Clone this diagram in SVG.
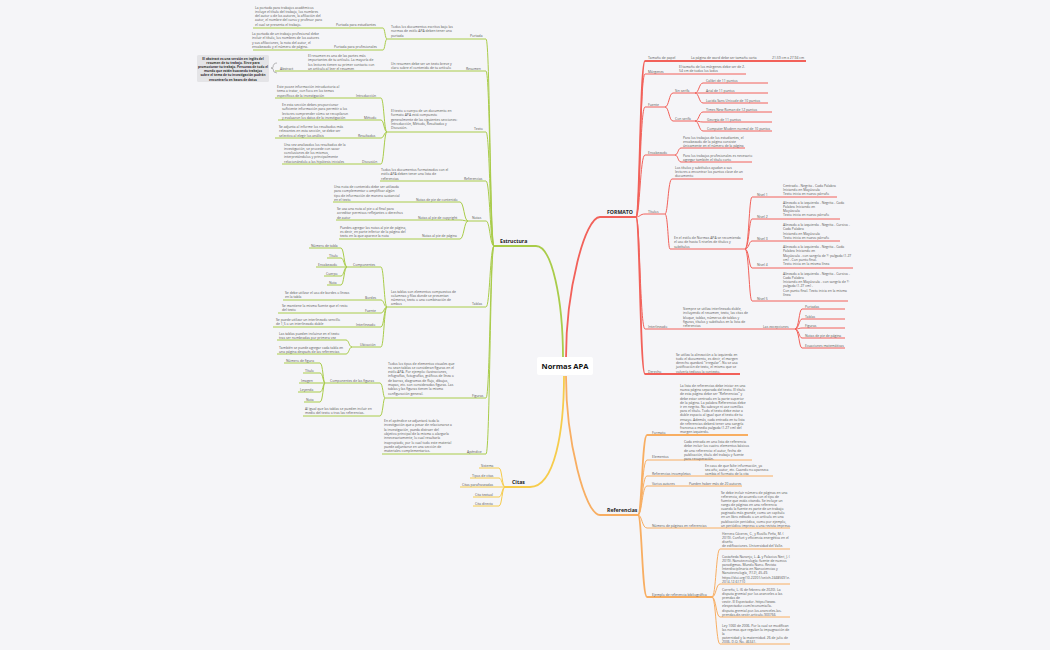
<svg xmlns="http://www.w3.org/2000/svg" width="1050" height="650" viewBox="0 0 1050 650">
<style>
text{font-family:"Open Sans","Liberation Sans",sans-serif;font-size:3.4px;fill:#555}
.h{font-size:5.2px;font-weight:bold;fill:#222}
.b{font-weight:bold;fill:#333;font-size:3.2px}
.g{stroke:#a9cc4a;fill:none;stroke-width:1}
.r{stroke:#f2615a;fill:none;stroke-width:1}
.o{stroke:#f8ae62;fill:none;stroke-width:1}
.y{stroke:#f6cc4c;fill:none;stroke-width:1}
.t{stroke-width:1.8}
</style>
<rect width="1050" height="650" fill="#f5f5f8"/>
<g id="connectors">
<path class="g t" d="M563 358 C563 300 552 246 536 246 H494"/>
<path class="r t" d="M566 358 C566 290 585 217 600 217 H636"/>
<path class="o t" d="M566 376 C566 440 585 515 600 515 H638"/>
<path class="y t" d="M564 376 C564 430 555 487 530 487 H505"/>
<g class="g">
<path d="M387 39 H486 C490 39 490 246 494 246"/>
<path d="M275 71 H486 C490 71 490 246 494 246"/>
<path d="M387 132 H486 C490 132 490 246 494 246"/>
<path d="M380 181 H486 C490 181 490 246 494 246"/>
<path d="M468 221 H486 C490 221 490 246 494 246"/>
<path d="M387 307 H486 C490 307 490 246 494 246"/>
<path d="M385 398 H486 C490 398 490 246 494 246"/>
<path d="M382 454 H486 C490 454 490 246 494 246"/>
<path d="M253 28 H383 C385 28 385 39 387 39"/>
<path d="M253 50 H383 C385 50 385 39 387 39"/>
<path d="M275 98 H381 C384 98 384 132 387 132"/>
<path d="M278 120 H381 C384 120 384 132 387 132"/>
<path d="M275 138 H381 C384 138 384 132 387 132"/>
<path d="M282 164 H381 C384 164 384 132 387 132"/>
<path d="M333 202 H460 C464 202 464 221 468 221"/>
<path d="M336 220 H460 C464 220 464 221 468 221"/>
<path d="M339 239 H460 C464 239 464 221 468 221"/>
<path d="M347 267 H381 C384 267 384 307 387 307"/>
<path d="M283 300 H381 C384 300 384 307 387 307"/>
<path d="M278 313 H381 C384 313 384 307 387 307"/>
<path d="M273 327 H381 C384 327 384 307 387 307"/>
<path d="M352 347 H381 C384 347 384 307 387 307"/>
<path d="M309 248 H341 C344 248 344 267 347 267"/>
<path d="M327 258 H341 C344 258 344 267 347 267"/>
<path d="M316 267 H347"/>
<path d="M324 276 H341 C344 276 344 267 347 267"/>
<path d="M327 285 H341 C344 285 344 267 347 267"/>
<path d="M277 340 H346 C349 340 349 347 352 347"/>
<path d="M277 354 H346 C349 354 349 347 352 347"/>
<path d="M325 383 H380 C383 383 383 398 385 398"/>
<path d="M303 416 H380 C383 416 383 398 385 398"/>
<path d="M284 363 H320 C323 363 323 383 325 383"/>
<path d="M303 373 H320 C323 373 323 383 325 383"/>
<path d="M299 383 H325"/>
<path d="M298 392 H320 C323 392 323 383 325 383"/>
<path d="M304 402 H320 C323 402 323 383 325 383"/>
</g>
<g class="y">
<path d="M479 468 H499 C502 468 502 487 505 487"/>
<path d="M470 478 H499 C502 478 502 487 505 487"/>
<path d="M460 487 H505"/>
<path d="M473 497 H499 C502 497 502 487 505 487"/>
<path d="M473 506 H499 C502 506 502 487 505 487"/>
</g>
<g class="r">
<path class="t" d="M636 217 C640 217 640 61 645 61 H806"/>
<path d="M636 217 C640 217 640 74 645 74 H746"/>
<path d="M636 217 C640 217 640 107 645 107 H665"/>
<path d="M636 217 C640 217 640 155 645 155 H675"/>
<path d="M636 217 C640 217 640 214 645 214 H665"/>
<path d="M636 217 C640 217 640 329 645 329 H795"/>
<path class="t" d="M636 217 C640 217 640 374 645 374 H740"/>
<path d="M665 107 C669 107 669 93 673 93 H695"/>
<path d="M665 107 C669 107 669 121 673 121 H695"/>
<path d="M695 93 C699 93 699 83 703 83 H768"/>
<path d="M695 93 H768"/>
<path d="M695 93 C699 93 699 103 703 103 H768"/>
<path d="M695 121 C699 121 699 112 703 112 H772"/>
<path d="M695 121 C699 121 699 122 703 122 H772"/>
<path d="M695 121 C699 121 699 131 703 131 H772"/>
<path d="M675 155 C678 155 678 148 681 148 H745"/>
<path d="M675 155 C678 155 678 162 681 162 H752"/>
<path d="M665 214 C668 214 668 179 672 179 H743"/>
<path d="M665 214 C668 214 668 249 670 249 H745"/>
<path d="M745 249 C749 249 749 197 752 197 H837"/>
<path d="M745 249 C749 249 749 219 752 219 H840"/>
<path d="M745 249 C749 249 749 241 752 241 H840"/>
<path d="M745 249 C749 249 749 268 752 268 H853"/>
<path d="M745 249 C749 249 749 301 752 301 H848"/>
<path d="M795 329 C799 329 799 309 802 309 H845"/>
<path d="M795 329 C799 329 799 319 802 319 H845"/>
<path d="M795 329 C799 329 799 328 802 328 H845"/>
<path d="M795 329 C799 329 799 338 802 338 H845"/>
<path d="M795 329 C799 329 799 348 802 348 H845"/>
</g>
<g class="o">
<path class="t" d="M638 515 C642 515 642 435 647 435 H748"/>
<path d="M638 515 C642 515 642 460 647 460 H752"/>
<path d="M638 515 C642 515 642 476 647 476 H773"/>
<path d="M638 515 C642 515 642 486 647 486 H742"/>
<path d="M638 515 C642 515 642 528 647 528 H790"/>
<path class="t" d="M638 515 C642 515 642 597 647 597 H712"/>
<path d="M712 597 C716 597 716 549 720 549 H790"/>
<path d="M712 597 C716 597 716 584 720 584 H790"/>
<path d="M712 597 C716 597 716 617 720 617 H790"/>
<path d="M712 597 C716 597 716 644 720 644 H790"/>
</g>
</g>
<g id="center"><rect x="537" y="357" width="56" height="18" rx="2" fill="#fff"/><text x="565" y="369" text-anchor="middle" style="font-size:7.5px;font-weight:bold;fill:#111">Normas APA</text></g>
<g id="estructura"><text class="h" x="500" y="243">Estructura</text></g>
<g id="formato"><text class="h" x="607" y="214">FORMATO</text></g>
<g id="referencias"><text class="h" x="607" y="512">Referencias</text></g>
<g id="citas"><text class="h" x="512" y="484">Citas</text></g>
<g id="portada">
<text x="470" y="37">Portada</text>
<text x="391" y="28"><tspan x="391">Todos los documentos escritos bajo las</tspan><tspan x="391" dy="4.3">normas de estilo APA deben tener una</tspan><tspan x="391" dy="4.3">portada</tspan></text>
<text x="336" y="26">Portada para estudiantes</text>
<text x="255" y="8.5"><tspan x="255">La portada para trabajos académicos</tspan><tspan x="255" dy="4.3">incluye el título del trabajo, los nombres</tspan><tspan x="255" dy="4.3">del autor o de los autores, la afiliación del</tspan><tspan x="255" dy="4.3">autor, el nombre del curso y profesor para</tspan><tspan x="255" dy="4.3">el cual se presenta el trabajo.</tspan></text>
<text x="334" y="48">Portada para profesionales</text>
<text x="252" y="35"><tspan x="252">La portada de un trabajo profesional debe</tspan><tspan x="252" dy="4.3">incluir el título, los nombres de los autores</tspan><tspan x="252" dy="4.3">y sus afiliaciones, la nota del autor, el</tspan><tspan x="252" dy="4.3">encabezado y el número de página.</tspan></text>
</g>
<g id="resumen">
<text x="466" y="69.5">Resumen</text>
<text x="391" y="65"><tspan x="391">Un resumen debe ser un texto breve y</tspan><tspan x="391" dy="4.3">claro sobre el contenido de tu artículo</tspan></text>
<text x="308" y="57"><tspan x="308">El resumen es una de las partes más</tspan><tspan x="308" dy="4.3">importantes de tu artículo. La mayoría de</tspan><tspan x="308" dy="4.3">los lectores tienen su primer contacto con</tspan><tspan x="308" dy="4.3">un artículo al leer el resumen</tspan></text>
<text x="280" y="69.5">Abstract</text>
<path d="M277 63 Q273 63 273 67.5 Q273 68 271 68 Q273 68 273 69 Q273 73 277 73" fill="none" stroke="#777" stroke-width="0.5"/>
<rect x="197" y="55" width="72" height="27" rx="1.5" fill="#e4e4e7"/>
<text x="233" y="59.5" text-anchor="middle" class="b"><tspan x="233">El abstract es una versión en inglés del</tspan><tspan x="233" dy="4.2">resumen de tu trabajo. Sirve para</tspan><tspan x="233" dy="4.2">promocionar tu trabajo. Personas de todo el</tspan><tspan x="233" dy="4.2">mundo que están buscando trabajos</tspan><tspan x="233" dy="4.2">sobre el tema de tu investigación podrán</tspan><tspan x="233" dy="4.2">encontrarlo en bases de datos</tspan></text>
</g>
<g id="texto">
<text x="474" y="130">Texto</text>
<text x="391" y="112"><tspan x="391">El texto o cuerpo de un documento en</tspan><tspan x="391" dy="4.3">formato APA está compuesto</tspan><tspan x="391" dy="4.3">generalmente de las siguientes secciones:</tspan><tspan x="391" dy="4.3">Introducción, Método, Resultados y</tspan><tspan x="391" dy="4.3">Discusión.</tspan></text>
<text x="356" y="96.5">Introducción</text>
<text x="277" y="88"><tspan x="277">Este posee información introductoria al</tspan><tspan x="277" dy="4.3">tema a tratar, con foco en los temas</tspan><tspan x="277" dy="4.3">específicos de la investigación</tspan></text>
<text x="364" y="118.5">Método</text>
<text x="282" y="106"><tspan x="282">En esta sección debes proporcionar</tspan><tspan x="282" dy="4.3">suficiente información para permitir a los</tspan><tspan x="282" dy="4.3">lectores comprender cómo se recopilaron</tspan><tspan x="282" dy="4.3">y evaluaron los datos de la investigación</tspan></text>
<text x="358" y="136.5">Resultados</text>
<text x="279" y="128"><tspan x="279">Se adjunta al informe los resultados más</tspan><tspan x="279" dy="4.3">relevantes en esta sección, se debe ser</tspan><tspan x="279" dy="4.3">selectivo al elegir los análisis</tspan></text>
<text x="362" y="162.5">Discusión</text>
<text x="284" y="145.5"><tspan x="284">Una vez analizados los resultados de la</tspan><tspan x="284" dy="4.3">investigación, se procede con sacar</tspan><tspan x="284" dy="4.3">conclusiones de los mismos,</tspan><tspan x="284" dy="4.3">interpretándolos y principalmente</tspan><tspan x="284" dy="4.3">relacionándolo a las hipótesis iniciales</tspan></text>
</g>
<g id="referencias-e">
<text x="464" y="179.5">Referencias</text>
<text x="381" y="171"><tspan x="381">Todos los documentos formateados con el</tspan><tspan x="381" dy="4.3">estilo APA deben tener una lista de</tspan><tspan x="381" dy="4.3">referencias</tspan></text>
</g>
<g id="notas">
<text x="472" y="219">Notas</text>
<text x="416" y="200.5">Notas de pie de contenido</text>
<text x="334" y="188"><tspan x="334">Una nota de contenido debe ser utilizada</tspan><tspan x="334" dy="4.3">para complementar o amplificar algún</tspan><tspan x="334" dy="4.3">tipo de información de manera sustancial</tspan><tspan x="334" dy="4.3">en el texto</tspan></text>
<text x="418" y="218.5">Notas al pie de copyright</text>
<text x="337" y="210"><tspan x="337">Se usa una nota al pie o al final para</tspan><tspan x="337" dy="4.3">acreditar permisos reflejantes o derechos</tspan><tspan x="337" dy="4.3">de autor</tspan></text>
<text x="422" y="237">Notas al pie de página</text>
<text x="340" y="228.5"><tspan x="340">Puedes agregar las notas al pie de página,</tspan><tspan x="340" dy="4.3">es decir, en parte inferior de la página del</tspan><tspan x="340" dy="4.3">texto en la que aparece la nota</tspan></text>
</g>
<g id="tablas">
<text x="472" y="305">Tablas</text>
<text x="391" y="292.5"><tspan x="391">Las tablas son elementos compuestos de</tspan><tspan x="391" dy="4.3">columnas y filas donde se presentan</tspan><tspan x="391" dy="4.3">números, texto o una combinación de</tspan><tspan x="391" dy="4.3">ambos</tspan></text>
<text x="353" y="265.5">Componentes</text>
<text x="311" y="246.5">Número de tabla</text>
<text x="329" y="256.5">Título</text>
<text x="318" y="265.5">Encabezado</text>
<text x="326" y="274.5">Cuerpo</text>
<text x="329" y="283.5">Nota</text>
<text x="365" y="298.5">Bordes</text>
<text x="285" y="293.5"><tspan x="285">Se debe utilizar el uso de bordes o líneas</tspan><tspan x="285" dy="4.3">en la tabla</tspan></text>
<text x="365" y="311.5">Fuente</text>
<text x="282" y="307"><tspan x="282">Se mantiene la misma fuente que el resto</tspan><tspan x="282" dy="4.3">del texto</tspan></text>
<text x="356" y="325.5">Interlineado</text>
<text x="276" y="321"><tspan x="276">Se puede utilizar un interlineado sencillo</tspan><tspan x="276" dy="4.3">de 1,5 o un interlineado doble</tspan></text>
<text x="360" y="345.5">Ubicación</text>
<text x="279" y="334.5"><tspan x="279">Las tablas pueden incluirse en el texto</tspan><tspan x="279" dy="4.3">tras ser nombradas por primera vez</tspan></text>
<text x="279" y="348.5"><tspan x="279">También se puede agregar cada tabla en</tspan><tspan x="279" dy="4.3">una página después de las referencias</tspan></text>
</g>
<g id="figuras">
<text x="472" y="396.5">Figuras</text>
<text x="388" y="364.5"><tspan x="388">Todos los tipos de elementos visuales que</tspan><tspan x="388" dy="4.3">no sean tablas se consideran figuras en el</tspan><tspan x="388" dy="4.3">estilo APA. Por ejemplo: ilustraciones,</tspan><tspan x="388" dy="4.3">infografías, fotografías, gráficos de línea o</tspan><tspan x="388" dy="4.3">de barras, diagramas de flujo, dibujos,</tspan><tspan x="388" dy="4.3">mapas, etc. son consideradas figuras. Las</tspan><tspan x="388" dy="4.3">tablas y las figuras tienen la misma</tspan><tspan x="388" dy="4.3">configuración general.</tspan></text>
<text x="330" y="381.5">Componentes de las figuras</text>
<text x="286" y="361.5">Número de figura</text>
<text x="305" y="371.5">Título</text>
<text x="301" y="381.5">Imagen</text>
<text x="300" y="390.5">Leyenda</text>
<text x="306" y="400.5">Nota</text>
<text x="305" y="409.5"><tspan x="305">Al igual que las tablas se pueden incluir en</tspan><tspan x="305" dy="4.3">medio del texto o tras las referencias.</tspan></text>
</g>
<g id="apendice">
<text x="467" y="452.5">Apéndice</text>
<text x="384" y="422"><tspan x="384">En el apéndice se adjuntará toda la</tspan><tspan x="384" dy="4.3">investigación que a pesar de relacionarse a</tspan><tspan x="384" dy="4.3">la investigación, pueda distraer del</tspan><tspan x="384" dy="4.3">objetivo principal de la misma o alargarla</tspan><tspan x="384" dy="4.3">innecesariamente, lo cual resultaría</tspan><tspan x="384" dy="4.3">inapropiado, por lo cual todo este material</tspan><tspan x="384" dy="4.3">puede adjuntarse en una sección de</tspan><tspan x="384" dy="4.3">materiales complementarios.</tspan></text>
</g>
<g id="citas-items">
<text x="481" y="466.5">Sistema</text>
<text x="472" y="476.5">Tipos de citas</text>
<text x="462" y="485.5">Citas parafraseadas</text>
<text x="475" y="495.5">Cita textual</text>
<text x="475" y="504.5">Cita directa</text>
</g>
<g id="formato-items">
<text x="648" y="58.5">Tamaño de papel</text>
<text x="691" y="58.5">La página de word debe ser tamaño carta</text>
<text x="772" y="58.5">21.59 cm x 27.94 cm</text>
<text x="648" y="72.5">Márgenes</text>
<text x="679" y="67.5"><tspan x="679">El tamaño de los márgenes debe ser de 2.</tspan><tspan x="679" dy="4.3">54 cm de todos los lados</tspan></text>
<text x="648" y="105.5">Fuente</text>
<text x="675" y="91.5">Sin serifa</text>
<text x="706" y="81.5">Calibri de 11 puntos</text>
<text x="706" y="91.5">Arial de 11 puntos</text>
<text x="706" y="101.5">Lucida Sans Unicode de 10 puntos</text>
<text x="675" y="119.5">Con serifa</text>
<text x="706" y="110.5">Times New Roman de 12 puntos</text>
<text x="707" y="120.5">Georgia de 11 puntos</text>
<text x="707" y="129.5">Computer Modern normal de 10 puntos</text>
<text x="648" y="153.5">Encabezado</text>
<text x="683" y="138.5"><tspan x="683">Para los trabajos de los estudiantes, el</tspan><tspan x="683" dy="4.3">encabezado de la página consiste</tspan><tspan x="683" dy="4.3">únicamente en el número de la página</tspan></text>
<text x="683" y="156.5"><tspan x="683">Para los trabajos profesionales es necesario</tspan><tspan x="683" dy="4.3">agregar también el título corto</tspan></text>
<text x="648" y="212.5">Títulos</text>
<text x="675" y="168.5"><tspan x="675">Los títulos y subtítulos ayudan a sus</tspan><tspan x="675" dy="4.3">lectores a encontrar los puntos clave de un</tspan><tspan x="675" dy="4.3">documento</tspan></text>
<text x="674" y="239"><tspan x="674">En el estilo de Normas APA se recomienda</tspan><tspan x="674" dy="4.3">el uso de hasta 5 niveles de títulos y</tspan><tspan x="674" dy="4.3">subtítulos</tspan></text>
<text x="757" y="195.5">Nivel 1</text>
<text x="783" y="186.5"><tspan x="783">Centrado - Negrita - Cada Palabra</tspan><tspan x="783" dy="4.3">Iniciando en Mayúscula</tspan><tspan x="783" dy="4.3">Texto inicia en nuevo párrafo</tspan></text>
<text x="757" y="217.5">Nivel 2</text>
<text x="783" y="203.5"><tspan x="783">Alineado a la izquierda - Negrita - Cada</tspan><tspan x="783" dy="4.3">Palabra Iniciando en</tspan><tspan x="783" dy="4.3">Mayúscula</tspan><tspan x="783" dy="4.3">Texto inicia en nuevo párrafo</tspan></text>
<text x="757" y="239.5">Nivel 3</text>
<text x="783" y="226"><tspan x="783">Alineado a la izquierda - Negrita - Cursiva -</tspan><tspan x="783" dy="4.3">Cada Palabra</tspan><tspan x="783" dy="4.3">Iniciando en Mayúscula</tspan><tspan x="783" dy="4.3">Texto inicia en nuevo párrafo</tspan></text>
<text x="757" y="265.5">Nivel 4</text>
<text x="783" y="248"><tspan x="783">Alineado a la izquierda - Negrita - Cada</tspan><tspan x="783" dy="4.3">Palabra Iniciando en</tspan><tspan x="783" dy="4.3">Mayúscula - con sangría de ½ pulgada (1.27</tspan><tspan x="783" dy="4.3">cm) - Con punto final.</tspan><tspan x="783" dy="4.3">Texto inicia en la misma línea</tspan></text>
<text x="757" y="299.5">Nivel 5</text>
<text x="783" y="274.5"><tspan x="783">Alineado a la izquierda - Negrita - Cursiva -</tspan><tspan x="783" dy="4.3">Cada Palabra</tspan><tspan x="783" dy="4.3">Iniciando en Mayúscula - con sangría de ½</tspan><tspan x="783" dy="4.3">pulgada (1.27 cm) -</tspan><tspan x="783" dy="4.3">Con punto final. Texto inicia en la misma</tspan><tspan x="783" dy="4.3">línea</tspan></text>
<text x="648" y="327.5">Interlineado</text>
<text x="683" y="310"><tspan x="683">Siempre se utiliza interlineado doble,</tspan><tspan x="683" dy="4.3">incluyendo el resumen, texto, las citas de</tspan><tspan x="683" dy="4.3">bloque, tablas, números de tablas y</tspan><tspan x="683" dy="4.3">figuras, títulos y subtítulos en la lista de</tspan><tspan x="683" dy="4.3">referencias</tspan></text>
<text x="763" y="327.5">Las excepciones</text>
<text x="805" y="307.5">Portadas</text>
<text x="805" y="317.5">Tablas</text>
<text x="805" y="326.5">Figuras</text>
<text x="805" y="336.5">Notas de pie de página</text>
<text x="805" y="346.5">Ecuaciones matemáticas</text>
<text x="648" y="372.5">Derecho</text>
<text x="676" y="355.5"><tspan x="676">Se utiliza la alineación a la izquierda en</tspan><tspan x="676" dy="4.3">todo el documento, es decir, el margen</tspan><tspan x="676" dy="4.3">derecho quedará "irregular". No se usa</tspan><tspan x="676" dy="4.3">justificación de texto, el mismo que se</tspan><tspan x="676" dy="4.3">volvería tedioso la contexto.</tspan></text>
</g>
<g id="referencias-items">
<text x="652" y="433.5">Formato</text>
<text x="680" y="387"><tspan x="680">La lista de referencias debe iniciar en una</tspan><tspan x="680" dy="4.2">nueva página separada del texto. El título</tspan><tspan x="680" dy="4.2">de esta página debe ser "Referencias" y</tspan><tspan x="680" dy="4.2">debe estar centrado en la parte superior</tspan><tspan x="680" dy="4.2">de la página. La palabra Referencias debe</tspan><tspan x="680" dy="4.2">ir en negrita. No subraye ni use comillas</tspan><tspan x="680" dy="4.2">para el título. Todo el texto debe estar a</tspan><tspan x="680" dy="4.2">doble espacio al igual que el texto de tu</tspan><tspan x="680" dy="4.2">ensayo. Además, cada entrada en tu lista</tspan><tspan x="680" dy="4.2">de referencias deberá tener una sangría</tspan><tspan x="680" dy="4.2">francesa a media pulgada (1.27 cm) del</tspan><tspan x="680" dy="4.2">margen izquierdo.</tspan></text>
<text x="652" y="458">Elementos</text>
<text x="684" y="443"><tspan x="684">Cada entrada en una lista de referencia</tspan><tspan x="684" dy="4.3">debe incluir los cuatro elementos básicos</tspan><tspan x="684" dy="4.3">de una referencia: el autor, fecha de</tspan><tspan x="684" dy="4.3">publicación, título del trabajo y fuente</tspan><tspan x="684" dy="4.3">para recuperación.</tspan></text>
<text x="652" y="474.5">Referencias incompletas</text>
<text x="705" y="466.5"><tspan x="705">En caso de que falte información, ya</tspan><tspan x="705" dy="4.3">sea año, autor, etc. Cuando no aparezca</tspan><tspan x="705" dy="4.3">cambia el formato de la cita</tspan></text>
<text x="652" y="484.5">Varios autores</text>
<text x="689" y="484.5">Pueden haber más de 20 autores</text>
<text x="652" y="526.5">Número de páginas en referencias</text>
<text x="721" y="493.5"><tspan x="721">Se debe incluir número de páginas en una</tspan><tspan x="721" dy="4.15">referencia, de acuerdo con el tipo de</tspan><tspan x="721" dy="4.15">fuente que estás citando. Se incluye un</tspan><tspan x="721" dy="4.15">rango de páginas en una referencia</tspan><tspan x="721" dy="4.15">cuando la fuente es parte de un trabajo</tspan><tspan x="721" dy="4.15">paginado más grande, como un capítulo</tspan><tspan x="721" dy="4.15">en un libro editado o un artículo en una</tspan><tspan x="721" dy="4.15">publicación periódica, como por ejemplo,</tspan><tspan x="721" dy="4.15">un periódico impreso o una revista impresa.</tspan></text>
<text x="652" y="595.5">Ejemplo de referencia bibliográfica</text>
<text x="722" y="534.5"><tspan x="722">Herrera Cáceres, C., y Rosillo Peña, M. (</tspan><tspan x="722" dy="4.3">2019). Confort y eficiencia energética en el</tspan><tspan x="722" dy="4.3">diseño</tspan><tspan x="722" dy="4.3">de edificaciones. Universidad del Valle.</tspan></text>
<text x="722" y="557.5"><tspan x="722">Castañeda Naranjo, L. A. y Palacios Neri, J. (</tspan><tspan x="722" dy="4.2">2019). Nanotecnología: fuente de nuevos</tspan><tspan x="722" dy="4.2">paradigmas. Mundo Nano. Revista</tspan><tspan x="722" dy="4.2">Interdisciplinaria en Nanociencias y</tspan><tspan x="722" dy="4.2">Nanotecnología, 7(12), 45-49.</tspan><tspan x="722" dy="4.2">https://doi.org/10.22201/ceiich.24485691e.</tspan><tspan x="722" dy="4.2">2014.12.61710</tspan></text>
<text x="722" y="590.5"><tspan x="722">Carreño, L. (6 de febrero de 2020). La</tspan><tspan x="722" dy="4.2">disputa gremial por los aranceles a las</tspan><tspan x="722" dy="4.2">prendas de</tspan><tspan x="722" dy="4.2">vestir. El Espectador. https://www.</tspan><tspan x="722" dy="4.2">elespectador.com/economia/la-</tspan><tspan x="722" dy="4.2">disputa-gremial-por-los-aranceles-las-</tspan><tspan x="722" dy="4.2">prendas-de-vestir-articulo-903766</tspan></text>
<text x="722" y="626.5"><tspan x="722">Ley 1060 de 2006. Por la cual se modifican</tspan><tspan x="722" dy="4.2">las normas que regulan la impugnación de</tspan><tspan x="722" dy="4.2">la</tspan><tspan x="722" dy="4.2">paternidad y la maternidad. 26 de julio de</tspan><tspan x="722" dy="4.2">2006. D.O. No. 46341.</tspan></text>
</g>
</svg>
